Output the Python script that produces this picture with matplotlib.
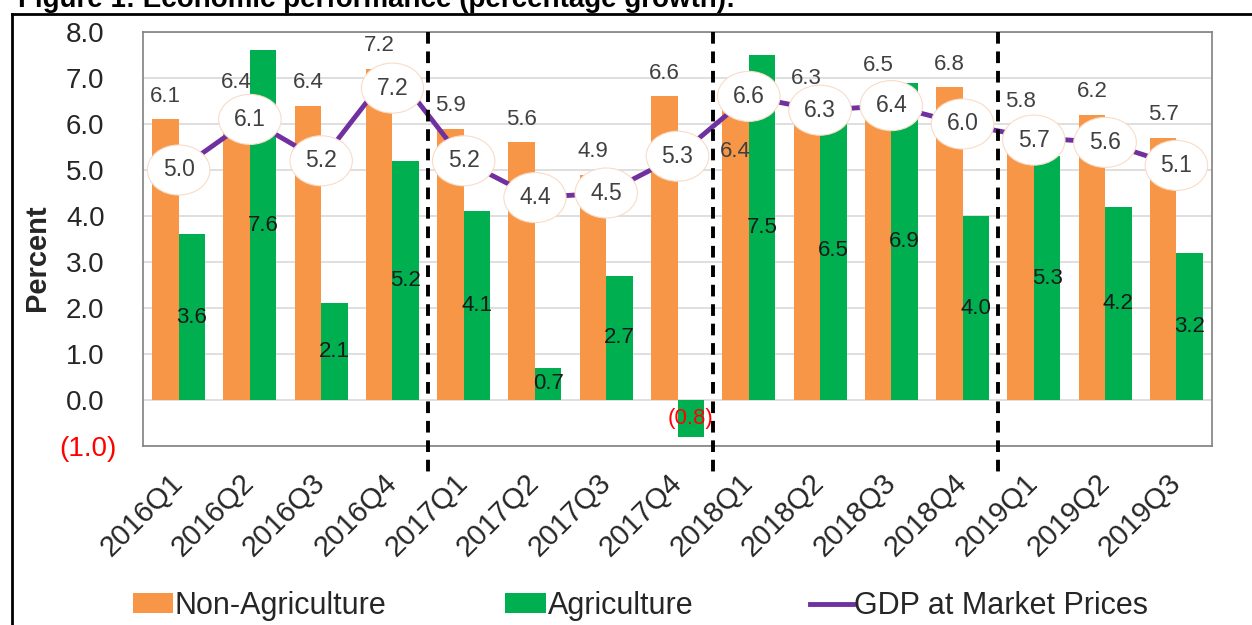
import matplotlib
matplotlib.use("Agg")
import matplotlib.pyplot as plt
from matplotlib.lines import Line2D
from matplotlib.patches import Patch
from matplotlib.transforms import ScaledTranslation
import numpy as np

plt.rcParams['font.family'] = ['Liberation Sans', 'DejaVu Sans']

# ---- data -------------------------------------------------------------
quarters = ["2016Q1", "2016Q2", "2016Q3", "2016Q4",
            "2017Q1", "2017Q2", "2017Q3", "2017Q4",
            "2018Q1", "2018Q2", "2018Q3", "2018Q4",
            "2019Q1", "2019Q2", "2019Q3"]
non_agriculture = [6.1, 6.4, 6.4, 7.2, 5.9, 5.6, 4.9, 6.6,
                   6.4, 6.3, 6.5, 6.8, 5.8, 6.2, 5.7]
agriculture = [3.6, 7.6, 2.1, 5.2, 4.1, 0.7, 2.7, -0.8,
               7.5, 6.5, 6.9, 4.0, 5.3, 4.2, 3.2]
gdp = [5.0, 6.1, 5.2, 7.2, 5.2, 4.4, 4.5, 5.3,
       6.6, 6.3, 6.4, 6.0, 5.7, 5.6, 5.1]
y_ticks = [-1.0, 0.0, 1.0, 2.0, 3.0, 4.0, 5.0, 6.0, 7.0, 8.0]

title = "Figure 1: Economic performance (percentage growth):"
series_names = ["Non-Agriculture", "Agriculture", "GDP at Market Prices"]

# ---- style ------------------------------------------------------------
ORANGE = "#F79646"
GREEN = "#00B050"
PURPLE = "#7030A0"
LABEL_GREY = "#404040"
TEXT = "#262626"
RED = "#FF0000"

# vertical shift (data units) of labels moved aside to avoid overlaps
bar_label_shift = {8: -1.0, 9: 0.68, 10: 0.78, 12: 0.68}
gdp_label_shift = {3: -0.42, 12: -0.05}


def fmt(v):
    return f"({abs(v):.1f})" if v < 0 else f"{v:.1f}"


W, H = 1252, 625
fig = plt.figure(figsize=(W / 100, H / 100), dpi=100)
ax = fig.add_axes([143 / W, 1 - 446 / H, 1069 / W, 414 / H])

x = np.arange(len(quarters))
bw = 0.372
ax.bar(x - bw / 2, non_agriculture, bw, color=ORANGE, zorder=2)
ax.bar(x + bw / 2, agriculture, bw, color=GREEN, zorder=2)
ax.plot(x, gdp, color=PURPLE, lw=3.5, zorder=3, solid_capstyle="butt")

ax.set_xlim(-0.5, len(quarters) - 0.5)
ax.set_ylim(y_ticks[0], y_ticks[-1])

# dashed dividers between years, running down into the tick-label area
years = [q[:4] for q in quarters]
for i in range(len(quarters) - 1):
    if years[i] != years[i + 1]:
        ax.plot([i + 0.5, i + 0.5], [y_ticks[-1], y_ticks[0] - 0.72],
                color="black", lw=2.8, linestyle=(0, (3, 2)),
                clip_on=False, zorder=4)

# data labels
for i, v in enumerate(non_agriculture):
    ax.text(x[i] - bw / 2, v + bar_label_shift.get(i, 0.5), fmt(v),
            ha="center", va="center", fontsize=16, color=LABEL_GREY, zorder=6)
for i, v in enumerate(agriculture):
    ax.text(x[i] + bw / 2, v / 2, fmt(v), ha="center", va="center",
            fontsize=16, color=RED if v < 0 else "#1A1A1A", zorder=6)
for i, v in enumerate(gdp):
    ax.text(x[i], v + gdp_label_shift.get(i, 0.0), fmt(v), ha="center",
            va="center", fontsize=16.5, color=LABEL_GREY, zorder=7,
            bbox=dict(boxstyle="ellipse,pad=0.27", fc="white",
                      ec="#F8DCC8", lw=0.8))

# axes styling
for s in ax.spines.values():
    s.set_color("#808080")
    s.set_linewidth(1.2)
ax.set_axisbelow(True)
ax.yaxis.grid(True, color="#D9D9D9", lw=1.2)

ax.set_yticks(y_ticks)
ax.set_yticklabels([fmt(v) for v in y_ticks])
ax.tick_params(axis="y", length=0, pad=19, labelsize=20, labelcolor=TEXT)
for v, lbl in zip(y_ticks, ax.get_yticklabels()):
    if v < 0:
        lbl.set_color(RED)
    else:
        lbl.set_transform(lbl.get_transform() +
                          ScaledTranslation(-12 / 100, 0, fig.dpi_scale_trans))

ax.set_xticks(x)
ax.set_xticklabels(quarters, rotation=45, ha="right", va="top",
                   rotation_mode="anchor")
ax.tick_params(axis="x", length=0, pad=18, labelsize=21, labelcolor=TEXT)
for lbl in ax.get_xticklabels():
    lbl.set_transform(lbl.get_transform() +
                      ScaledTranslation(-10 / 100, 2 / 100, fig.dpi_scale_trans))

ax.set_ylabel("Percent", fontsize=21, fontweight="bold", color=TEXT)
ax.yaxis.set_label_coords((51 - 143) / 1069, (446 - 258) / 414)

# legend: three entries spread along the bottom
leg_kw = dict(frameon=False, fontsize=22, handleheight=0.62,
              handletextpad=0.05, borderpad=0, borderaxespad=0,
              loc="center left", labelcolor=TEXT)
handles = [Patch(facecolor=ORANGE, edgecolor="none"),
           Patch(facecolor=GREEN, edgecolor="none"),
           Line2D([], [], color=PURPLE, lw=3.5)]
starts = [133, 505, 810]
lengths = [1.3, 1.35, 1.4]
for h, name, x0, hl in zip(handles, series_names, starts, lengths):
    fig.legend([h], [name], bbox_to_anchor=(x0 / W, 1 - 606 / H),
               handlelength=hl, **leg_kw)

# outer frame and the title above it
fig.add_artist(Line2D([12 / W, 12 / W], [0, 1 - 14 / H], color="black",
                      lw=2, transform=fig.transFigure))
fig.add_artist(Line2D([12 / W, 1], [1 - 14 / H, 1 - 14 / H], color="black",
                      lw=2, transform=fig.transFigure))
fig.text(18 / W, 1 - 7 / H, title, fontsize=20, fontweight="bold",
         va="baseline", ha="left", color="black")

fig.savefig("out.png", dpi=100)
